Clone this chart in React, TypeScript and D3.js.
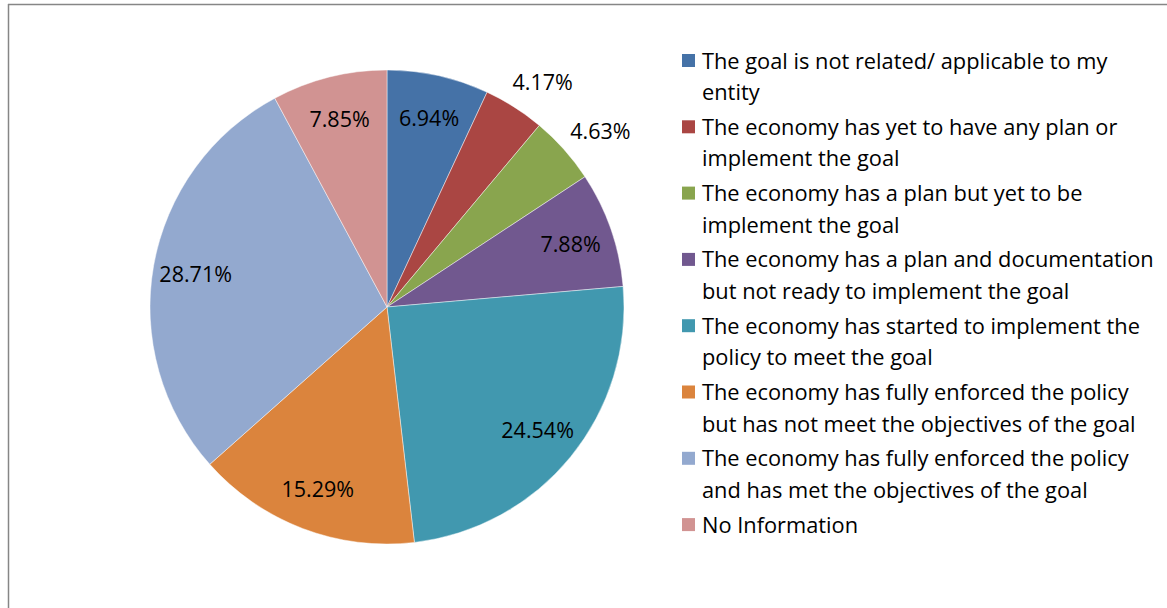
import React from "react";
import * as d3 from "d3";

const categories: string[] = [
  "The goal is not related/ applicable to my entity",
  "The economy has yet to have any plan or implement the goal",
  "The economy has a plan but yet to be implement the goal",
  "The economy has a plan and documentation but not ready to implement the goal",
  "The economy has started to implement the policy to meet the goal",
  "The economy has fully enforced the policy but has not meet the objectives of the goal",
  "The economy has fully enforced the policy and has met the objectives of the goal",
  "No Information",
];

const legendLines: string[][] = [
  ["The goal is not related/ applicable to my", "entity"],
  ["The economy has yet to have any plan or", "implement the goal"],
  ["The economy has a plan but yet to be", "implement the goal"],
  ["The economy has a plan and documentation", "but not ready to implement the goal"],
  ["The economy has started to implement the", "policy to meet the goal"],
  ["The economy has fully enforced the policy", "but has not meet the objectives of the goal"],
  ["The economy has fully enforced the policy", "and has met the objectives of the goal"],
  ["No Information"],
];

const values: number[] = [6.94, 4.17, 4.63, 7.88, 24.54, 15.29, 28.71, 7.85];

const colors: string[] = [
  "#4572A7",
  "#AA4643",
  "#89A54E",
  "#71588F",
  "#4198AF",
  "#DB843D",
  "#93A9CF",
  "#D19392",
];

const FONT = "'Open Sans', 'Liberation Sans', sans-serif";

export default function App() {
  const W = 1167;
  const H = 608;
  const cx = 387;
  const cy = 307;
  const r = 237;

  const pie = d3
    .pie<number>()
    .sort(null)
    .value((d) => d)
    .startAngle(0)
    .endAngle(2 * Math.PI);
  const arcs = pie(values);
  const arcGen = d3.arc<d3.PieArcDatum<number>>().innerRadius(0).outerRadius(r);

  const inner = d3.arc<d3.PieArcDatum<number>>().innerRadius(r * 0.82).outerRadius(r * 0.82);
  const outer = d3.arc<d3.PieArcDatum<number>>().innerRadius(r * 1.16).outerRadius(r * 1.16);

  const legendX = 682;
  const legendY0 = 60;
  const entryStep = 66.3;
  const lineStep = 31.5;

  return (
    <svg
      width={W}
      height={H}
      style={{ position: "fixed", left: 0, top: 0, background: "#fff" }}
      fontFamily={FONT}
    >
      <rect x={0} y={0} width={W} height={H} fill="#fff" />
      <line x1={8} y1={4.5} x2={W} y2={4.5} stroke="#868686" strokeWidth={1.5} />
      <line x1={8.5} y1={4} x2={8.5} y2={H} stroke="#868686" strokeWidth={1.5} />
      <g transform={`translate(${cx},${cy})`}>
        {arcs.map((a, i) => (
          <path key={i} d={arcGen(a) || ""} fill={colors[i]} stroke="#fff" strokeOpacity={0.6} strokeWidth={0.75} />
        ))}
        {arcs.map((a, i) => {
          const small = a.data < 5;
          const [x, y] = (small ? outer : inner).centroid(a);
          return (
            <text
              key={"l" + i}
              x={small ? x + 8 : x}
              y={small ? y + 6 : y}
              textAnchor="middle"
              dominantBaseline="central"
              fontSize={21.5}
              fill="#000"
            >
              {a.data.toFixed(2)}%
            </text>
          );
        })}
      </g>
      <g>
        {categories.map((c, i) => {
          const y0 = legendY0 + i * entryStep;
          return (
            <g key={c}>
              <rect x={legendX} y={y0 - 6} width={13} height={13} fill={colors[i]} />
              {legendLines[i].map((ln, j) => (
                <text
                  key={j}
                  x={702}
                  y={y0 + j * lineStep}
                  dominantBaseline="central"
                  fontSize={21.8}
                  fill="#000"
                >
                  {ln}
                </text>
              ))}
            </g>
          );
        })}
      </g>
    </svg>
  );
}
